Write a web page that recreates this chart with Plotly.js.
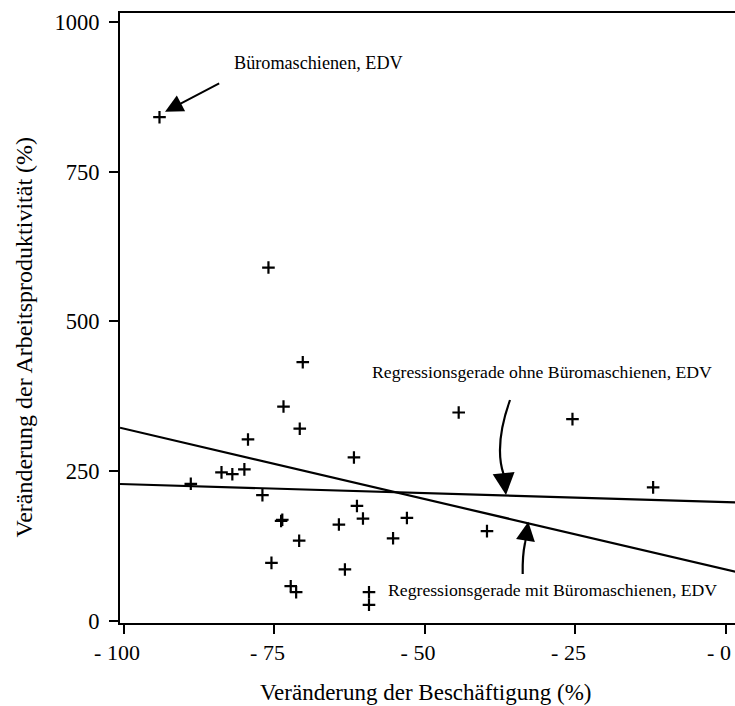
<!DOCTYPE html>
<html>
<head>
<meta charset="utf-8">
<script src="https://cdn.plot.ly/plotly-3.0.1.min.js"></script>
<style>
html,body{margin:0;padding:0;overflow:hidden;background:#fff;}
#chart{width:745px;height:706px;}
</style>
</head>
<body>
<div id="chart"></div>
<script>
// Veränderung der Beschäftigung (%) per Branche
const employmentChange = [
  -94.1, -76.0, -70.3, -73.5, -70.8, -79.4, -61.8, -88.9, -83.8, -82.0,
  -80.0, -77.0, -73.9, -73.7, -70.9, -75.5, -72.3, -71.4, -64.3, -61.3,
  -60.3, -63.3, -59.3, -59.3, -55.3, -53.0, -39.7, -44.4, -25.5, -12.1
];
// Veränderung der Arbeitsproduktivität (%)
const productivityChange = [
  841, 590, 432, 358, 321, 303, 273, 229, 248, 245,
  253, 210, 167, 169, 134, 97, 58, 48, 161, 192,
  171, 86, 48, 27, 138, 172, 150, 348, 337, 223
];
// Regressionsgeraden: [mit Büromaschienen, ohne Büromaschienen]
const regNames = ['Regressionsgerade mit Büromaschienen, EDV', 'Regressionsgerade ohne Büromaschienen, EDV'];
const regIntercept = [85.8, 198.5];
const regSlope = [-2.353, -0.30];

const xTickVals = [-100, -75, -50, -25, 0];
const xTickText = ['- 100', '- 75', '- 50', '- 25', '- 0'];
const yTickVals = [0, 250, 500, 750, 1000];
const yTickText = ['0', '250', '500', '750', '1000'];
const xTitle = 'Veränderung der Beschäftigung (%)';
const yTitle = 'Veränderung der Arbeitsproduktivität (%)';

// ---- layout geometry ----
const W = 745, H = 706;
const M = {l: 120, r: 0, t: 13, b: 83};
const xRange = [-100.66, 3.16];
const yRange = [-3.4, 1015];
const plotW = W - M.l - M.r, plotH = H - M.t - M.b;
function px2x(px){ return xRange[0] + (px - M.l) / plotW * (xRange[1] - xRange[0]); }
function py2y(py){ return yRange[1] - (py - M.t) / plotH * (yRange[1] - yRange[0]); }
function px2paper(px){ return (px - M.l) / plotW; }
function py2paper(py){ return (H - M.b - py) / plotH; }

const FONT = '"Liberation Serif", "Times New Roman", Times, serif';

const traces = [{
  type: 'scatter', mode: 'markers',
  x: employmentChange, y: productivityChange,
  marker: {symbol: 'cross-thin', size: 9, color: '#000', line: {color: '#000', width: 2.2}},
  hoverinfo: 'x+y', showlegend: false
}];
regNames.forEach((nm, i) => {
  traces.push({
    type: 'scatter', mode: 'lines', name: nm,
    x: [xRange[0], xRange[1]],
    y: [regIntercept[i] + regSlope[i] * xRange[0], regIntercept[i] + regSlope[i] * xRange[1]],
    line: {color: '#000', width: 2.2}, showlegend: false, hoverinfo: 'name'
  });
});

function pathQ(p0, p1, p2){
  return 'M' + px2x(p0[0]) + ',' + py2y(p0[1]) +
         ' Q' + px2x(p1[0]) + ',' + py2y(p1[1]) +
         ' ' + px2x(p2[0]) + ',' + py2y(p2[1]);
}

const shapes = [
  {type: 'path', xref: 'x', yref: 'y', path: pathQ([510, 400], [494, 445], [503.5, 474]), line: {color: '#000', width: 2.2}},
  {type: 'path', xref: 'x', yref: 'y', path: pathQ([522.7, 574], [522.3, 556], [525, 543]), line: {color: '#000', width: 2.2}}
];

function textAnn(txt, cx, cy, size){
  return {text: txt, x: px2x(cx), y: py2y(cy), xref: 'x', yref: 'y', showarrow: false,
          xanchor: 'center', yanchor: 'middle', font: {family: FONT, size: size, color: '#000'}};
}
function titleAnn(txt, cx, cy, size, angle){
  return {text: txt, x: px2paper(cx), y: py2paper(cy), xref: 'paper', yref: 'paper', showarrow: false,
          xanchor: 'center', yanchor: 'middle', textangle: angle, font: {family: FONT, size: size, color: '#000'}};
}
function arrowAnn(tip, tail, size){
  return {text: '', x: px2x(tip[0]), y: py2y(tip[1]), xref: 'x', yref: 'y',
          ax: tail[0] - tip[0], ay: tail[1] - tip[1], showarrow: true,
          arrowhead: 2, arrowsize: size, arrowwidth: 2, arrowcolor: '#000', standoff: 0};
}

const annotations = [
  titleAnn(xTitle, 425, 692, 23, 0),
  titleAnn(yTitle, 23, 337.5, 24, -90),
  textAnn('Büromaschienen, EDV', 318, 63, 18.2),
  textAnn('Regressionsgerade ohne Büromaschienen, EDV', 542, 372, 17.7),
  textAnn('Regressionsgerade mit Büromaschienen, EDV', 552.5, 590, 17.7),
  arrowAnn([165, 111.7], [220.7, 82.7], 1.8),
  arrowAnn([506, 495], [503.5, 472], 2.2),
  arrowAnn([528.3, 521.7], [524.8, 545], 1.9)
];

const layout = {
  width: W, height: H,
  margin: M,
  paper_bgcolor: '#fff', plot_bgcolor: '#fff',
  font: {family: FONT, color: '#000'},
  showlegend: false,
  xaxis: {
    range: xRange, fixedrange: true,
    tickvals: xTickVals, ticktext: xTickText,
    ticks: 'outside', ticklen: 9, tickwidth: 2, tickcolor: '#000',
    showline: true, linewidth: 2, linecolor: '#000', mirror: true,
    showgrid: false, zeroline: false,
    tickfont: {family: FONT, size: 22, color: '#000'},
    ticklabelshift: -7,
    ticklabeloverflow: 'allow'
  },
  yaxis: {
    range: yRange, fixedrange: true,
    tickvals: yTickVals, ticktext: yTickText,
    ticks: 'outside', ticklen: 9, tickwidth: 2, tickcolor: '#000',
    showline: true, linewidth: 2, linecolor: '#000',
    showgrid: false, zeroline: false,
    tickfont: {family: FONT, size: 22.5, color: '#000'},
    ticklabelstandoff: 5
  },
  shapes: shapes,
  annotations: annotations
};

Plotly.newPlot('chart', traces, layout, {displayModeBar: false, staticPlot: true});
</script>
</body>
</html>
